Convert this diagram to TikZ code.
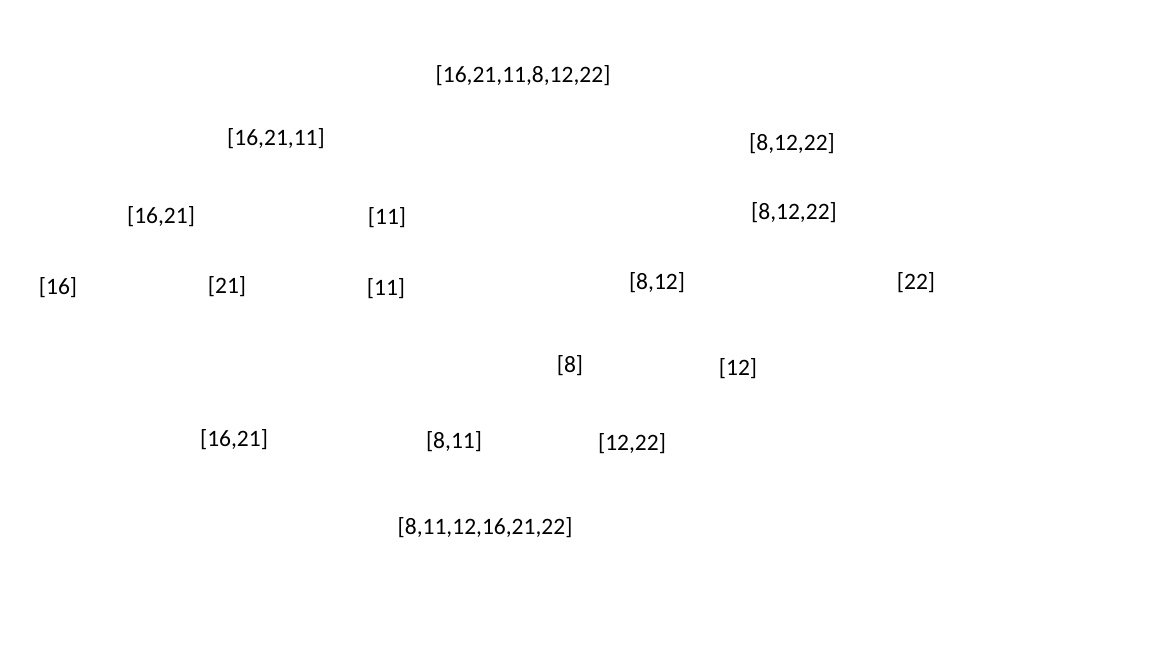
\documentclass[tikz,border=0pt]{standalone}
\usepackage{fontspec}
\setmainfont{Carlito}
\tikzset{lbl/.style={inner sep=0pt, font=\fontsize{23.5}{28}\selectfont, text height=17pt, text depth=5pt, anchor=center, yshift=-2pt}}
\begin{document}
\begin{tikzpicture}[x=1pt,y=-1pt]
\useasboundingbox[fill=white] (0,0) rectangle (1152,648);
\node[lbl] (r) at (523,74) {[16,21,11,8,12,22]};
\node[lbl] (a) at (276,137) {[16,21,11]};
\node[lbl] (b) at (792,142) {[8,12,22]};
\node[lbl] (a1) at (161,215) {[16,21]};
\node[lbl] (a2) at (387,216) {[11]};
\node[lbl] (b1) at (794,211) {[8,12,22]};
\node[lbl] (l16) at (58,286) {[16]};
\node[lbl] (l21) at (227,285) {[21]};
\node[lbl] (l11) at (386,287) {[11]};
\node[lbl] (b2) at (657,281) {[8,12]};
\node[lbl] (l22) at (916,281) {[22]};
\node[lbl] (l8) at (570,364) {[8]};
\node[lbl] (l12) at (738,367) {[12]};
\node[lbl] (m1) at (234,438) {[16,21]};
\node[lbl] (m2) at (454,440) {[8,11]};
\node[lbl] (m3) at (632,442) {[12,22]};
\node[lbl] (res) at (485,526) {[8,11,12,16,21,22]};
\end{tikzpicture}
\end{document}
